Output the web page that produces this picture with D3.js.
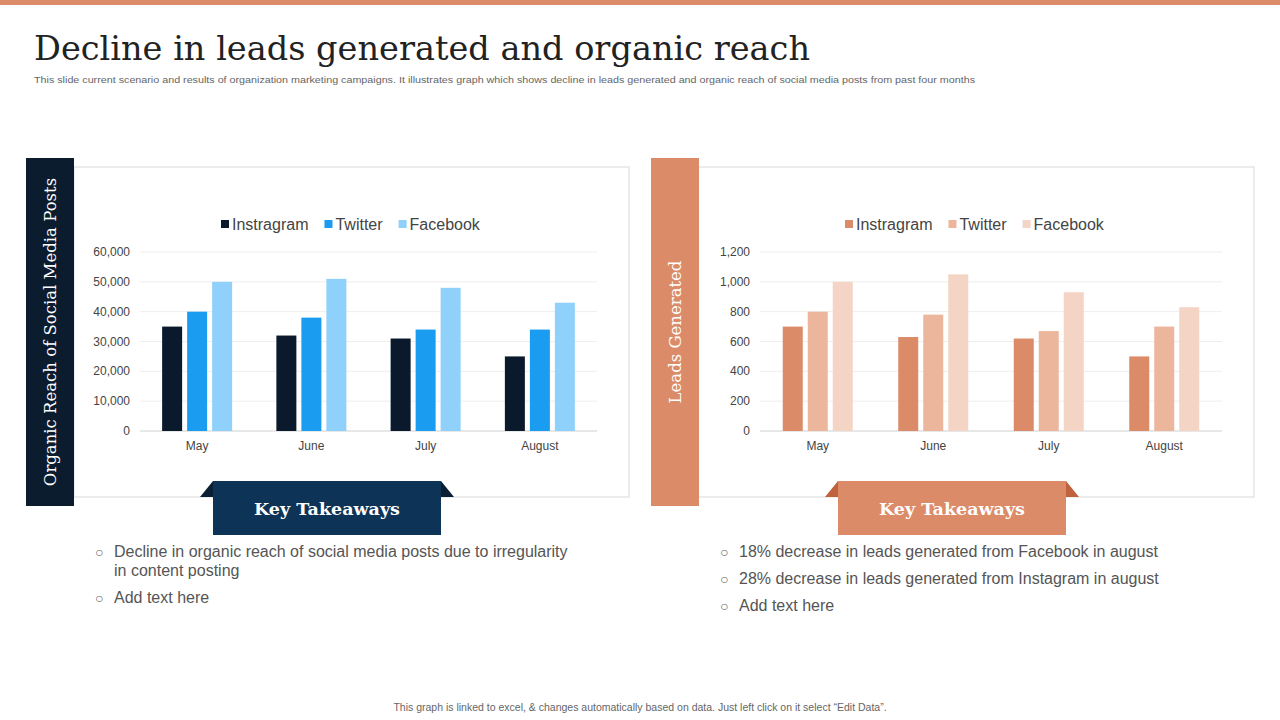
<!DOCTYPE html><html><head><meta charset="utf-8">
<script src="https://cdn.jsdelivr.net/npm/d3@7"></script>
<style>body{margin:0;background:#fff}svg{display:block}</style></head><body>
<svg id="c" width="1280" height="720"></svg>
<script>
const months=["May","June","July","August"];
const seriesNames=["Instragram","Twitter","Facebook"];
const reach={Instragram:[35000,32000,31000,25000],Twitter:[40000,38000,34000,34000],Facebook:[50000,51000,48000,43000]};
const leads={Instragram:[700,630,620,500],Twitter:[800,780,670,700],Facebook:[1000,1050,930,830]};
const reachTicks=[0,10000,20000,30000,40000,50000,60000];
const leadTicks=[0,200,400,600,800,1000,1200];
const svg=d3.select("#c");
const serif="'DejaVu Serif','Liberation Serif',serif", sans="Arial,'Liberation Sans',sans-serif";
svg.append("rect").attr("x",0).attr("y",0).attr("width",1280).attr("height",5).attr("fill","#dc8b68");
const tt=svg.append("text").attr("x",34).attr("y",60).attr("font-family","'DejaVu Serif',serif").attr("font-size",33).attr("fill","#222").text("Decline in leads generated and organic reach");
const tw=tt.node().getComputedTextLength(); tt.attr("textLength",776).attr("lengthAdjust","spacingAndGlyphs");
svg.append("text").attr("x",34).attr("y",83).attr("font-family",sans).attr("font-size",9.5).attr("fill","#666").attr("textLength",941).attr("lengthAdjust","spacingAndGlyphs").text("This slide current scenario and results of organization marketing  campaigns. It illustrates graph which shows decline in leads generated and organic reach of social media posts from past four months");
svg.append("text").attr("x",640).attr("y",711).attr("text-anchor","middle").attr("font-family",sans).attr("font-size",10.5).attr("fill","#666").text("This graph is linked to excel, & changes automatically based on data. Just left click on it select “Edit Data”.");

function panel(o){
  svg.append("rect").attr("x",o.bx).attr("y",167).attr("width",o.bw).attr("height",330).attr("fill","#fff").attr("stroke","#d9d9d9");
  svg.append("rect").attr("x",o.sx).attr("y",158).attr("width",48).attr("height",348).attr("fill",o.side);
  svg.append("text").attr("transform",`translate(${o.sx+30},${332}) rotate(-90)`).attr("text-anchor","middle").attr("font-family",serif).attr("font-size",16.5).attr("fill","#fff").text(o.label);
  const x=d3.scaleBand().domain(months).range([o.px0,o.px1]);
  const y=d3.scaleLinear().domain([0,o.max]).range([431,252]);
  const g=svg.append("g");
  o.ticks.forEach(t=>{
    if(t>0) g.append("line").attr("x1",o.px0).attr("x2",o.px1).attr("y1",y(t)).attr("y2",y(t)).attr("stroke","#eee");
    g.append("text").attr("x",o.px0-10).attr("y",y(t)+4).attr("text-anchor","end").attr("font-family",sans).attr("font-size",12).attr("fill","#444").text(d3.format(",")(t));
  });
  g.append("line").attr("x1",o.px0).attr("x2",o.px1).attr("y1",431).attr("y2",431).attr("stroke","#d0d0d0");
  const bw=20,gap=5;
  seriesNames.forEach((s,i)=>{
    g.selectAll(null).data(o.data[s]).enter().append("rect")
      .attr("x",(d,j)=>x(months[j])+x.bandwidth()/2+(i-1)*(bw+gap)-bw/2)
      .attr("y",d=>y(d)).attr("width",bw).attr("height",d=>431-y(d)).attr("fill",o.colors[i]);
  });
  months.forEach(m=>g.append("text").attr("x",x(m)+x.bandwidth()/2).attr("y",450).attr("text-anchor","middle").attr("font-family",sans).attr("font-size",12).attr("fill","#444").text(m));
  let lx=o.lx;
  seriesNames.forEach((s,i)=>{
    g.append("rect").attr("x",lx).attr("y",220).attr("width",8).attr("height",8).attr("fill",o.colors[i]);
    const t=g.append("text").attr("x",lx+11).attr("y",230).attr("font-family",sans).attr("font-size",16).attr("fill","#444").text(s);
    lx+=11+t.node().getComputedTextLength()+16;
  });
  svg.append("path").attr("d",`M${o.kx-13},497 L${o.kx},481 L${o.kx+228},481 L${o.kx+241},497 Z`).attr("fill",o.tip);
  svg.append("rect").attr("x",o.kx).attr("y",481).attr("width",228).attr("height",54).attr("fill",o.key);
  svg.append("text").attr("x",o.kx+114).attr("y",515).attr("text-anchor","middle").attr("font-family",serif).attr("font-weight","bold").attr("font-size",17.5).attr("fill","#fff").text("Key Takeaways");
  o.bullets.forEach(b=>{
    if(b[2]!==false) svg.append("text").attr("x",o.bxl).attr("y",b[1]).attr("font-family",sans).attr("font-size",14).attr("fill","#666").text("○");
    svg.append("text").attr("x",o.bxl+19).attr("y",b[1]).attr("font-family",sans).attr("font-size",16).attr("fill","#555").text(b[0]);
  });
}
panel({bx:74,bw:555,sx:26,side:"#0b1c2e",label:"Organic Reach of Social Media Posts",px0:140,px1:597,max:60000,ticks:reachTicks,data:reach,
  colors:["#0a1a2c","#1a9cf0","#8fd1fb"],lx:221,kx:213,key:"#0d3457",tip:"#0a1f33",bxl:95,
  bullets:[["Decline in organic reach of social media posts due to irregularity",557],["in content posting",576,false],["Add text here",603]]});
panel({bx:698,bw:556,sx:651,side:"#dc8b68",label:"Leads Generated",px0:760,px1:1222,max:1200,ticks:leadTicks,data:leads,
  colors:["#dc8b68","#ebb69c","#f3d4c5"],lx:845,kx:838,key:"#dc8b68",tip:"#c0623e",bxl:720,
  bullets:[["18% decrease in leads generated from Facebook in august",557],["28% decrease in leads generated from Instagram  in august",584],["Add text here",611]]});
</script></body></html>
